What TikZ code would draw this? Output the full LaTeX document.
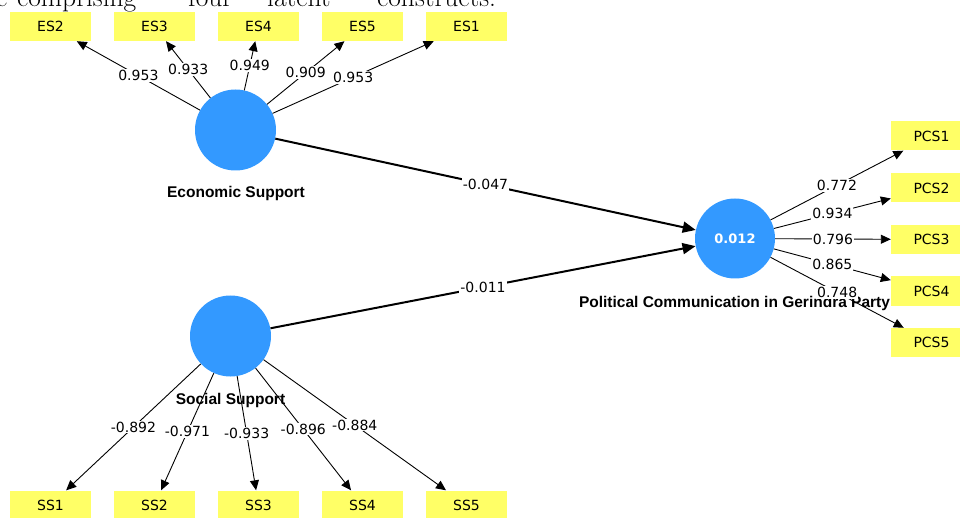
\documentclass[tikz,border=0pt]{standalone}
\usepackage{fontspec}
\usetikzlibrary{arrows.meta}
\newfontfamily\labfont{DejaVu Sans}
\newfontfamily\namefont{Liberation Sans}
\definecolor{lvblue}{RGB}{51,153,255}
\definecolor{mvyellow}{RGB}{255,255,102}
\begin{document}
\begin{tikzpicture}[x=1pt,y=-1pt,
  ind/.style={fill=mvyellow, minimum width=81pt, minimum height=29pt, inner sep=0pt, font=\labfont\fontsize{14}{16}\selectfont},
  lv/.style={circle, fill=lvblue, minimum size=81pt, inner sep=0pt, text=white, font=\labfont\bfseries\fontsize{13}{15}\selectfont},
  lvname/.style={inner sep=0pt, font=\namefont\bfseries\fontsize{15.5}{18}\selectfont},
  meas/.style={line width=0.9pt, -{Triangle[length=10pt,width=9pt]}},
  struct/.style={line width=2pt, -{Triangle[length=13pt,width=11pt]}},
  wl/.style={fill=white, inner sep=1pt, font=\labfont\fontsize{14}{16}\selectfont},
  captext/.style={anchor=base west, inner sep=0pt, font=\fontsize{27.5}{30}\selectfont}]
\useasboundingbox (0,0) rectangle (960,518);

% cropped caption text at top
\node[captext] (w1) at (-4,7) {e};
\node[captext] (w2) at (17,7) {comprising};
\node[captext] (w3) at (188,7) {four};
\node[captext] (w4) at (267,7) {latent};
\node[captext] (w5) at (377,7) {constructs.};

% indicators
\node[ind] (ES2) at (50.5,26.5) {ES2};
\node[ind] (ES3) at (154.5,26.5) {ES3};
\node[ind] (ES4) at (258.5,26.5) {ES4};
\node[ind] (ES5) at (362.5,26.5) {ES5};
\node[ind] (ES1) at (466.5,26.5) {ES1};

\node[ind] (SS1) at (50.5,505) {SS1};
\node[ind] (SS2) at (154.5,505) {SS2};
\node[ind] (SS3) at (258.5,505) {SS3};
\node[ind] (SS4) at (362.5,505) {SS4};
\node[ind] (SS5) at (466.5,505) {SS5};

\node[ind] (PCS1) at (931.5,136) {PCS1};
\node[ind] (PCS2) at (931.5,188) {PCS2};
\node[ind] (PCS3) at (931.5,239.5) {PCS3};
\node[ind] (PCS4) at (931.5,291) {PCS4};
\node[ind] (PCS5) at (931.5,342.5) {PCS5};

% latent variables
\node[lv] (ESv) at (235.5,130) {};
\node[lv] (SSv) at (230.5,336) {};
\node[lv, minimum size=80pt] (PCSv) at (735,238.5) {0.012};

\node[lvname] (ESn) at (236,193) {Economic Support};
\node[lvname] (SSn) at (230.5,400) {Social Support};
\node[lvname] (PCSn) at (734.5,303) {Political Communication in Gerindra Party};

% measurement model
\draw[meas] (ESv) -- node[wl]{0.953} (ES2);
\draw[meas] (ESv) -- node[wl]{0.933} (ES3);
\draw[meas] (ESv) -- node[wl]{0.949} (ES4);
\draw[meas] (ESv) -- node[wl]{0.909} (ES5);
\draw[meas] (ESv) -- node[wl]{0.953} (ES1);

\draw[meas] (SSv) -- node[wl]{-0.892} (SS1);
\draw[meas] (SSv) -- node[wl]{-0.971} (SS2);
\draw[meas] (SSv) -- node[wl]{-0.933} (SS3);
\draw[meas] (SSv) -- node[wl]{-0.896} (SS4);
\draw[meas] (SSv) -- node[wl]{-0.884} (SS5);

\draw[meas] (PCSv) -- node[wl]{0.772} (PCS1);
\draw[meas] (PCSv) -- node[wl]{0.934} (PCS2);
\draw[meas] (PCSv) -- node[wl]{0.796} (PCS3);
\draw[meas] (PCSv) -- node[wl]{0.865} (PCS4);
\draw[meas] (PCSv) -- node[wl]{0.748} (PCS5);

% structural model
\draw[struct] (ESv) -- node[wl]{-0.047} (PCSv);
\draw[struct] (SSv) -- node[wl]{-0.011} (PCSv);
\end{tikzpicture}
\end{document}
